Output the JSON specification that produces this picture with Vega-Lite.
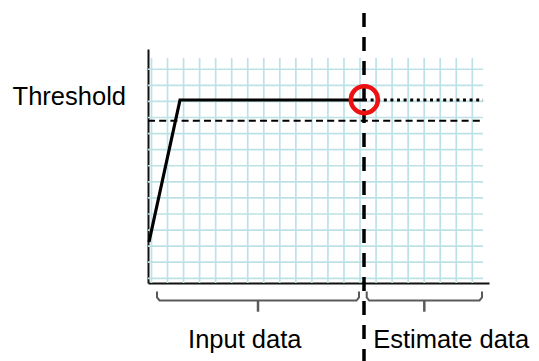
{
  "$schema": "https://vega.github.io/schema/vega-lite/v6.json",
  "width": 341,
  "height": 234,
  "autosize": {"type": "none"},
  "padding": {"left": 148, "top": 49, "right": 50, "bottom": 78},
  "background": "white",
  "config": {
    "view": {"stroke": null},
    "axis": {"labels": false, "ticks": false, "grid": false, "domainColor": "#111111", "domainWidth": 2, "titleOpacity": 0},
    "text": {"font": "Liberation Sans", "fontSize": 25.5, "color": "#000000"}
  },
  "encoding": {
    "x": {"field": "u", "type": "quantitative", "scale": {"domain": [-0.2182, 21.041], "nice": false, "zero": false}, "title": null},
    "y": {"field": "v", "type": "quantitative", "scale": {"domain": [-0.2923, 14.26], "nice": false, "zero": false}, "title": null}
  },
  "layer": [
    {
      "data": {"values": [
        {"u": 0, "v": -0.292, "v2": 13.7}, {"u": 1, "v": -0.292, "v2": 13.7}, {"u": 2, "v": -0.292, "v2": 13.7},
        {"u": 3, "v": -0.292, "v2": 13.7}, {"u": 4, "v": -0.292, "v2": 13.7}, {"u": 5, "v": -0.292, "v2": 13.7},
        {"u": 6, "v": -0.292, "v2": 13.7}, {"u": 7, "v": -0.292, "v2": 13.7}, {"u": 8, "v": -0.292, "v2": 13.7},
        {"u": 9, "v": -0.292, "v2": 13.7}, {"u": 10, "v": -0.292, "v2": 13.7}, {"u": 11, "v": -0.292, "v2": 13.7},
        {"u": 12, "v": -0.292, "v2": 13.7}, {"u": 13, "v": -0.292, "v2": 13.7}, {"u": 14, "v": -0.292, "v2": 13.7},
        {"u": 15, "v": -0.292, "v2": 13.7}, {"u": 16, "v": -0.292, "v2": 13.7}, {"u": 17, "v": -0.292, "v2": 13.7},
        {"u": 18, "v": -0.292, "v2": 13.7}, {"u": 19, "v": -0.292, "v2": 13.7}, {"u": 20, "v": -0.292, "v2": 13.7}
      ]},
      "mark": {"type": "rule", "color": "#bde2e5", "strokeWidth": 1.7},
      "encoding": {"y2": {"field": "v2"}}
    },
    {
      "data": {"values": [
        {"v": 0, "u": -0.218, "u2": 20.67}, {"v": 1, "u": -0.218, "u2": 20.67}, {"v": 2, "u": -0.218, "u2": 20.67},
        {"v": 3, "u": -0.218, "u2": 20.67}, {"v": 4, "u": -0.218, "u2": 20.67}, {"v": 5, "u": -0.218, "u2": 20.67},
        {"v": 6, "u": -0.218, "u2": 20.67}, {"v": 7, "u": -0.218, "u2": 20.67}, {"v": 8, "u": -0.218, "u2": 20.67},
        {"v": 9, "u": -0.218, "u2": 20.67}, {"v": 10, "u": -0.218, "u2": 20.67}, {"v": 11, "u": -0.218, "u2": 20.67},
        {"v": 12, "u": -0.218, "u2": 20.67}, {"v": 13, "u": -0.218, "u2": 20.67}
      ]},
      "mark": {"type": "rule", "color": "#bde2e5", "strokeWidth": 1.7},
      "encoding": {"x2": {"field": "u2"}}
    },
    {
      "data": {"values": [{"u": -0.218, "u2": 20.67, "v": 9.801}]},
      "mark": {"type": "rule", "color": "#000000", "strokeWidth": 2, "strokeDash": [7, 4.2]},
      "encoding": {"x2": {"field": "u2"}}
    },
    {
      "data": {"values": [{"u": 13.248, "u2": 20.67, "v": 11.088}]},
      "mark": {"type": "rule", "color": "#000000", "strokeWidth": 3, "strokeDash": [3, 3.6]},
      "encoding": {"x2": {"field": "u2"}}
    },
    {
      "data": {"values": [
        {"u": -0.156, "v": 2.257},
        {"u": 1.777, "v": 11.088},
        {"u": 13.248, "v": 11.088}
      ]},
      "mark": {"type": "line", "color": "#000000", "strokeWidth": 3.2},
      "encoding": {}
    },
    {
      "data": {"values": [{"u": 13.248, "v": 16.5, "v2": -5.143}]},
      "mark": {"type": "rule", "color": "#000000", "strokeWidth": 3.5, "strokeDash": [14, 10]},
      "encoding": {"y2": {"field": "v2"}}
    },
    {
      "data": {"values": [{"u": 13.27, "v": 11.11}]},
      "mark": {"type": "point", "shape": "circle", "filled": false, "color": "#ee1111", "strokeWidth": 4.5, "size": 729, "opacity": 1},
      "encoding": {}
    },
    {
      "data": {"values": [
        {"b": "input", "o": 1, "u": 0.343, "v": -0.821},
        {"b": "input", "o": 2, "u": 0.343, "v": -1.19},
        {"b": "input", "o": 3, "u": 0.499, "v": -1.381},
        {"b": "input", "o": 4, "u": 12.781, "v": -1.381},
        {"b": "input", "o": 5, "u": 12.936, "v": -1.19},
        {"b": "input", "o": 6, "u": 12.936, "v": -0.821},
        {"b": "estimate", "o": 1, "u": 13.417, "v": -0.821},
        {"b": "estimate", "o": 2, "u": 13.417, "v": -1.19},
        {"b": "estimate", "o": 3, "u": 13.572, "v": -1.381},
        {"b": "estimate", "o": 4, "u": 20.449, "v": -1.381},
        {"b": "estimate", "o": 5, "u": 20.605, "v": -1.19},
        {"b": "estimate", "o": 6, "u": 20.605, "v": -0.821}
      ]},
      "mark": {"type": "line", "color": "#5a5a5a", "strokeWidth": 2},
      "encoding": {"detail": {"field": "b"}, "order": {"field": "o", "type": "quantitative"}}
    },
    {
      "data": {"values": [
        {"u": 6.64, "v": -1.381, "v2": -2.077},
        {"u": 17.008, "v": -1.381, "v2": -2.077}
      ]},
      "mark": {"type": "rule", "color": "#5a5a5a", "strokeWidth": 2.5},
      "encoding": {"y2": {"field": "v2"}}
    },
    {
      "data": {"values": [
        {"u": -8.66, "v": 10.778, "label": "Threshold"},
        {"u": 2.28, "v": -4.304, "label": "Input data"},
        {"u": 13.82, "v": -4.304, "label": "Estimate data"}
      ]},
      "mark": {"type": "text", "align": "left", "baseline": "alphabetic"},
      "encoding": {"text": {"field": "label"}}
    }
  ]
}
